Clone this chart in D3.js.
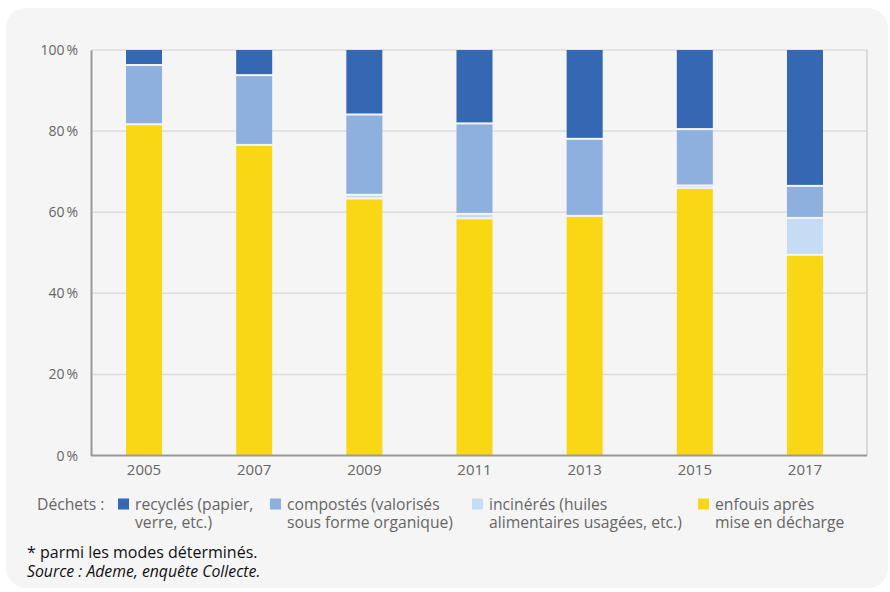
<!DOCTYPE html>
<html>
<head>
<meta charset="utf-8">
<script src="https://cdn.jsdelivr.net/npm/d3@7"></script>
<style>
  body { margin: 0; background: #fff; }
  svg { display: block; font-family: "Open Sans", sans-serif; }
</style>
</head>
<body>
<script>
// years on the x axis
var years = ['2005', '2007', '2009', '2011', '2013', '2015', '2017'];
// share of each mode (%)
var enfouis   = [81.7, 76.6, 63.4, 58.5, 59.1, 66.0, 49.5];
var incineres = [0,    0,    0.9,  1.1,  0,    0.6,  9.1];
var compostes = [14.6, 17.2, 19.8, 22.3, 19.0, 13.9, 7.9];
var recycles  = [3.7,  6.2,  15.9, 18.1, 21.9, 19.5, 33.5];
var yTicks = [0, 20, 40, 60, 80, 100];

var keys = ['enfouis', 'incineres', 'compostes', 'recycles'];
var colors = { recycles: '#3468b2', compostes: '#8eb0de', incineres: '#c5ddf4', enfouis: '#fad714' };
var legendItems = [
  { key: 'recycles', lines: ['recyclés (papier,', 'verre, etc.)'], x: 118 },
  { key: 'compostes', lines: ['compostés (valorisés', 'sous forme organique)'], x: 270 },
  { key: 'incineres', lines: ['incinérés (huiles', 'alimentaires usagées, etc.)'], x: 472 },
  { key: 'enfouis', lines: ['enfouis après', 'mise en décharge'], x: 698 }
];

var data = years.map(function (yr, i) {
  return { year: yr, enfouis: enfouis[i], incineres: incineres[i], compostes: compostes[i], recycles: recycles[i] };
});

var W = 890, H = 592;
var svg = d3.select('body').append('svg').attr('width', W).attr('height', H);

// panel background
svg.append('rect').attr('x', 6).attr('y', 8).attr('width', 882).attr('height', 580)
  .attr('rx', 20).attr('fill', '#f5f5f5');

var plotLeft = 91, plotRight = 867, plotTop = 50, plotBottom = 455.6;

var x = d3.scaleBand().domain(years).range([89, 860]).paddingInner(0.673).paddingOuter(0.336);
var y = d3.scaleLinear().domain([0, 100]).range([plotBottom, plotTop]);

// gridlines
svg.append('g').selectAll('line').data(yTicks.filter(function (d) { return d > 0; }))
  .enter().append('line')
  .attr('x1', plotLeft).attr('x2', plotRight)
  .attr('y1', function (d) { return y(d); }).attr('y2', function (d) { return y(d); })
  .attr('stroke', '#dcdcdc').attr('stroke-width', 1.5);

// right frame line
svg.append('line').attr('x1', plotRight).attr('x2', plotRight).attr('y1', plotTop).attr('y2', plotBottom)
  .attr('stroke', '#cfcfcf').attr('stroke-width', 1.5);

// stacked bars, with a thin gap between segments
var gap = 1;
function segTop(d) { return y(d[1]) + (d[1] < 99.9 ? gap : 0); }
function segBottom(d) { return y(d[0]) - (d[0] > 0 ? gap : 0); }
var series = d3.stack().keys(keys)(data);
svg.append('g').selectAll('g').data(series).enter().append('g')
  .attr('fill', function (s) { return colors[s.key]; })
  .selectAll('rect').data(function (s) { return s.filter(function (d) { return d[1] - d[0] > 0; }); })
  .enter().append('rect')
  .attr('x', function (d) { return x(d.data.year); })
  .attr('width', x.bandwidth())
  .attr('y', segTop)
  .attr('height', function (d) { return Math.max(0.8, segBottom(d) - segTop(d)); });

// y axis
var yAxis = d3.axisLeft(y).tickValues(yTicks).tickSize(0).tickPadding(13)
  .tickFormat(function (d) { return d + '\u202f%'; });
var gy = svg.append('g').attr('transform', 'translate(' + plotLeft + ',0)').call(yAxis);
gy.select('.domain').attr('stroke', '#999').attr('stroke-width', 2);
gy.selectAll('text').attr('fill', '#666').attr('font-size', 14)
  .attr('font-family', '"Open Sans", sans-serif').attr('letter-spacing', '-0.3');

// x axis
var xAxis = d3.axisBottom(x).tickSize(0).tickPadding(9);
var gx = svg.append('g').attr('transform', 'translate(0,' + plotBottom + ')').call(xAxis);
gx.select('.domain').attr('d', 'M' + plotLeft + ',0H' + plotRight).attr('stroke', '#999').attr('stroke-width', 2);
gx.selectAll('text').attr('fill', '#666').attr('font-size', 15)
  .attr('font-family', '"Open Sans", sans-serif');

// legend
svg.append('text').attr('x', 37).attr('y', 510).text('Déchets :')
  .attr('fill', '#666').attr('font-size', 15.7);
var lg = svg.append('g').selectAll('g').data(legendItems).enter().append('g')
  .attr('transform', function (d) { return 'translate(' + d.x + ',0)'; });
lg.append('rect').attr('x', 0).attr('y', 498.5).attr('width', 11).attr('height', 11)
  .attr('fill', function (d) { return colors[d.key]; });
lg.append('text').attr('fill', '#666').attr('font-size', 15.7)
  .selectAll('tspan').data(function (d) { return d.lines; }).enter().append('tspan')
  .attr('x', 17).attr('y', function (d, i) { return 510 + i * 18; })
  .text(function (d) { return d; });

// notes
svg.append('text').attr('x', 27).attr('y', 558).text('* parmi les modes déterminés.')
  .attr('fill', '#111').attr('font-size', 16);
svg.append('text').attr('x', 27).attr('y', 577).text('Source : Ademe, enquête Collecte.')
  .attr('fill', '#111').attr('font-size', 15.8).attr('font-style', 'italic');
</script>
</body>
</html>
